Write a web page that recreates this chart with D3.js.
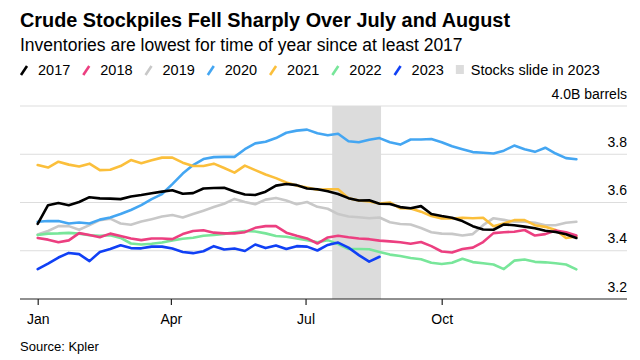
<!DOCTYPE html>
<html>
<head>
<meta charset="utf-8">
<script src="https://cdn.jsdelivr.net/npm/d3@7"></script>
<style>
  html, body { margin: 0; padding: 0; background: #fff; }
  svg { display: block; font-family: "Liberation Sans", Arial, Helvetica, sans-serif; }
</style>
</head>
<body>
<svg id="chart" width="640" height="360"></svg>
<script>
// ---------- data (weekly readings, billion barrels) ----------
const dates = ["2023-01-01","2023-01-08","2023-01-15","2023-01-22","2023-01-29","2023-02-05","2023-02-12","2023-02-19","2023-02-26","2023-03-05","2023-03-12","2023-03-19","2023-03-26","2023-04-02","2023-04-09","2023-04-16","2023-04-23","2023-04-30","2023-05-07","2023-05-14","2023-05-21","2023-05-28","2023-06-04","2023-06-11","2023-06-18","2023-06-25","2023-07-02","2023-07-09","2023-07-16","2023-07-23","2023-07-30","2023-08-06","2023-08-13","2023-08-20","2023-08-27","2023-09-03","2023-09-10","2023-09-17","2023-09-24","2023-10-01","2023-10-08","2023-10-15","2023-10-22","2023-10-29","2023-11-05","2023-11-12","2023-11-19","2023-11-26","2023-12-03","2023-12-10","2023-12-17","2023-12-24","2023-12-31"];

const years = ["2017","2018","2019","2020","2021","2022","2023"];
const colors = ["#000000","#ec3f80","#c8c8c8","#44a6f2","#fbbf3b","#78e69a","#1040f5"];

const v2017 = [3.511,3.589,3.598,3.589,3.602,3.622,3.617,3.616,3.614,3.625,3.631,3.638,3.645,3.651,3.636,3.639,3.658,3.660,3.661,3.646,3.633,3.631,3.645,3.670,3.677,3.672,3.658,3.655,3.647,3.635,3.618,3.608,3.609,3.595,3.594,3.581,3.576,3.585,3.552,3.544,3.537,3.523,3.502,3.488,3.487,3.509,3.506,3.500,3.493,3.483,3.478,3.468,3.453];
const v2018 = [3.453,3.446,3.435,3.443,3.473,3.465,3.456,3.471,3.461,3.451,3.444,3.451,3.451,3.448,3.469,3.482,3.485,3.475,3.472,3.472,3.477,3.495,3.502,3.502,3.475,3.462,3.451,3.430,3.455,3.462,3.456,3.451,3.448,3.442,3.439,3.435,3.429,3.436,3.419,3.397,3.393,3.407,3.413,3.436,3.473,3.477,3.479,3.486,3.463,3.469,3.484,3.477,3.463];
const v2019 = [3.467,3.482,3.502,3.502,3.487,3.506,3.527,3.533,3.513,3.508,3.521,3.531,3.542,3.548,3.538,3.552,3.566,3.581,3.595,3.615,3.602,3.593,3.612,3.619,3.608,3.593,3.602,3.582,3.574,3.552,3.542,3.539,3.535,3.538,3.518,3.511,3.509,3.494,3.477,3.471,3.470,3.463,3.469,3.506,3.535,3.528,3.520,3.520,3.516,3.506,3.506,3.516,3.520];
const v2020 = [3.520,3.523,3.523,3.513,3.517,3.513,3.529,3.538,3.552,3.569,3.589,3.614,3.635,3.676,3.720,3.755,3.780,3.788,3.789,3.789,3.821,3.845,3.852,3.867,3.889,3.898,3.902,3.887,3.879,3.885,3.854,3.850,3.860,3.867,3.850,3.840,3.861,3.861,3.863,3.850,3.833,3.821,3.809,3.806,3.803,3.815,3.836,3.821,3.810,3.827,3.803,3.784,3.779];
const v2021 = [3.755,3.745,3.769,3.757,3.749,3.761,3.734,3.736,3.751,3.776,3.763,3.775,3.786,3.786,3.765,3.751,3.751,3.761,3.743,3.724,3.753,3.734,3.716,3.701,3.683,3.670,3.662,3.653,3.655,3.655,3.618,3.608,3.604,3.596,3.600,3.576,3.575,3.562,3.544,3.534,3.534,3.537,3.535,3.537,3.502,3.513,3.527,3.527,3.506,3.499,3.486,3.453,3.459];
const v2022 = [3.465,3.471,3.472,3.474,3.471,3.464,3.462,3.464,3.453,3.430,3.426,3.429,3.434,3.443,3.450,3.454,3.462,3.465,3.470,3.477,3.482,3.480,3.472,3.461,3.458,3.451,3.444,3.435,3.444,3.428,3.407,3.407,3.406,3.395,3.384,3.378,3.370,3.365,3.350,3.345,3.350,3.367,3.353,3.348,3.343,3.324,3.359,3.364,3.354,3.352,3.348,3.343,3.323];
const v2023 = [3.324,3.347,3.372,3.391,3.386,3.357,3.395,3.407,3.423,3.411,3.410,3.417,3.417,3.409,3.395,3.390,3.398,3.419,3.405,3.409,3.399,3.426,3.411,3.422,3.407,3.419,3.417,3.401,3.424,3.434,3.413,3.382,3.355,3.375];

const shadeStart = "2023-07-19";
const shadeEnd = "2023-08-21";
const shadeLabel = "Stocks slide in 2023";

const xTickDates = ["2023-01-01","2023-04-01","2023-07-01","2023-10-01"];
const yGridValues = [3.4, 3.6, 3.8, 4.0];
const yLabelValues = [3.2, 3.4, 3.6, 3.8, 4.0];

const title = "Crude Stockpiles Fell Sharply Over July and August";
const subtitle = "Inventories are lowest for time of year since at least 2017";
const source = "Source: Kpler";

// ---------- drawing ----------
const parse = d3.timeParse("%Y-%m-%d");
const seriesValues = [v2017, v2018, v2019, v2020, v2021, v2022, v2023];
const series = years.map((y, i) => ({
  year: y, color: colors[i],
  points: seriesValues[i].map((v, j) => ({ date: parse(dates[j]), value: v }))
}));

const svg = d3.select("#chart");
const frameLeft = 20, frameRight = 627;

const x = d3.scaleTime()
  .domain([parse("2023-01-01"), parse("2023-10-01")])
  .range([37.7, 441.7]);
const y = d3.scaleLinear().domain([3.2, 4.0]).range([299, 106]);

// title block
svg.append("text").attr("x", 20).attr("y", 27)
  .attr("font-size", 20).attr("font-weight", "bold").attr("fill", "#000")
  .attr("textLength", 490).attr("lengthAdjust", "spacingAndGlyphs")
  .text(title);
svg.append("text").attr("x", 20).attr("y", 51)
  .attr("font-size", 17.5).attr("fill", "#000")
  .text(subtitle);

// legend
const legend = svg.append("g");
let lx = 20;
const ly = 75;
series.forEach(s => {
  legend.append("line")
    .attr("x1", lx + 1).attr("y1", ly).attr("x2", lx + 7).attr("y2", ly - 9)
    .attr("stroke", s.color).attr("stroke-width", 2.6).attr("stroke-linecap", "butt");
  const t = legend.append("text").attr("x", lx + 18).attr("y", ly)
    .attr("font-size", 14.5).attr("fill", "#000").text(s.year);
  lx = lx + 18 + t.node().getComputedTextLength() + 12;
});
legend.append("rect").attr("x", lx).attr("y", ly - 10).attr("width", 8).attr("height", 9)
  .attr("fill", "#dcdcdc");
legend.append("text").attr("x", lx + 15).attr("y", ly)
  .attr("font-size", 14.5).attr("fill", "#000").text(shadeLabel);

// gridlines
svg.append("g").selectAll("line").data(yGridValues).join("line")
  .attr("x1", frameLeft).attr("x2", frameRight)
  .attr("y1", d => y(d)).attr("y2", d => y(d))
  .attr("stroke", "#dddddd").attr("stroke-width", 1);

// shaded period
svg.append("rect")
  .attr("x", x(parse(shadeStart)))
  .attr("width", x(parse(shadeEnd)) - x(parse(shadeStart)))
  .attr("y", y(4.0)).attr("height", y(3.2) - y(4.0))
  .attr("fill", "#dcdcdc");

// y labels (right side, above gridlines)
const yAxis = d3.axisLeft(y).tickValues(yLabelValues).tickSize(0).tickPadding(0)
  .tickFormat(d => d === 4.0 ? "4.0B barrels" : d3.format(".1f")(d));
const yg = svg.append("g").attr("transform", `translate(${frameRight},0)`).call(yAxis);
yg.select(".domain").remove();
yg.selectAll("text").attr("dy", null).attr("y", -8).attr("x", 0)
  .attr("font-size", 14).attr("fill", "#000")
  .attr("font-family", "Liberation Sans, Arial, sans-serif");

// lines
const line = d3.line().x(d => x(d.date)).y(d => y(d.value)).curve(d3.curveLinear);
const drawOrder = ["2019","2020","2021","2022","2018","2017","2023"];
svg.append("g").selectAll("path")
  .data(drawOrder.map(yr => series.find(s => s.year === yr)))
  .join("path")
  .attr("d", d => line(d.points))
  .attr("fill", "none")
  .attr("stroke", d => d.color)
  .attr("stroke-width", 2.6)
  .attr("stroke-linejoin", "round")
  .attr("stroke-linecap", "round");

// x axis
svg.append("line").attr("x1", frameLeft).attr("x2", frameRight)
  .attr("y1", y(3.2)).attr("y2", y(3.2))
  .attr("stroke", "#222").attr("stroke-width", 1.2);
const xAxis = d3.axisBottom(x).tickValues(xTickDates.map(parse))
  .tickFormat(d3.timeFormat("%b")).tickSize(6).tickSizeOuter(0);
const xg = svg.append("g").attr("transform", `translate(0,${y(3.2)})`).call(xAxis);
xg.select(".domain").remove();
xg.selectAll(".tick line").attr("stroke", "#222").attr("stroke-width", 1.2);
xg.selectAll(".tick text").attr("dy", null).attr("y", 25)
  .attr("font-size", 14).attr("fill", "#000")
  .attr("font-family", "Liberation Sans, Arial, sans-serif");

// source
svg.append("text").attr("x", 20).attr("y", 351)
  .attr("font-size", 13).attr("fill", "#000").text(source);
</script>
</body>
</html>
